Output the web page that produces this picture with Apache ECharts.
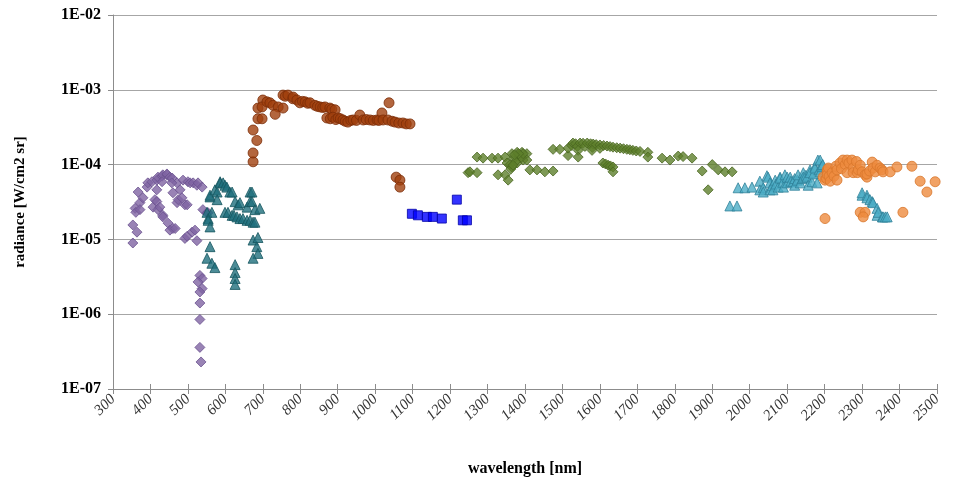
<!DOCTYPE html>
<html>
<head>
<meta charset="utf-8">
<script src="https://cdn.jsdelivr.net/npm/echarts@6/dist/echarts.min.js"></script>
<style>
html,body{margin:0;padding:0;background:#fff;}
#c{width:955px;height:483px;}
</style>
</head>
<body>
<div id="c"></div>
<script>
// x tick labels (nm)
const xTicks = [300,400,500,600,700,800,900,1000,1100,1200,1300,1400,1500,1600,1700,1800,1900,2000,2100,2200,2300,2400,2500];
// y tick labels (decades)
const yTicks = ['1E-07','1E-06','1E-05','1E-04','1E-03','1E-02'];

// series 1: purple diamonds [wavelength nm, radiance]
const purple = [[353,8.95e-6],[353,1.56e-5],[364,1.25e-5],[359,2.6e-5],[361,2.3e-5],[372,3.1e-5],[372,2.5e-5],[367,4.3e-5],[380,3.6e-5],[391,5.0e-5],[393,5.7e-5],[404,5.9e-5],[417,6.2e-5],[420,6.8e-5],[431,7.0e-5],[433,7.3e-5],[444,7.3e-5],[444,7.5e-5],[452,6.8e-5],[458,6.6e-5],[431,5.9e-5],[417,4.6e-5],[471,5.7e-5],[457,5.7e-5],[479,4.6e-5],[460,4.2e-5],[487,6.2e-5],[500,5.9e-5],[506,5.7e-5],[514,5.7e-5],[524,5.3e-5],[527,5.7e-5],[538,5.0e-5],[407,2.7e-5],[412,3.4e-5],[417,3.2e-5],[420,2.5e-5],[425,2.7e-5],[433,2.1e-5],[433,2.0e-5],[447,1.65e-5],[452,1.33e-5],[460,1.4e-5],[466,1.4e-5],[471,3.1e-5],[474,3.4e-5],[484,3.6e-5],[492,2.9e-5],[498,2.9e-5],[492,1.03e-5],[498,1.1e-5],[511,1.25e-5],[519,1.33e-5],[524,9.6e-6],[540,2.5e-5],[551,2.27e-5],[554,2.27e-5],[532,3.3e-6],[538,3.0e-6],[527,2.7e-6],[538,2.2e-6],[532,1.98e-6],[532,1.41e-6],[532,8.5e-7],[532,3.6e-7],[535,2.3e-7]];

// series 2: dark teal triangles
const tealDark = [[559,3.7e-5],[559,3.9e-5],[572,4.6e-5],[578,4.3e-5],[586,5.9e-5],[586,5.7e-5],[594,5.7e-5],[599,5.3e-5],[604,5.0e-5],[612,4.3e-5],[618,4.3e-5],[578,3.4e-5],[626,3.2e-5],[634,2.9e-5],[639,3.1e-5],[658,2.7e-5],[551,2.3e-5],[564,2.3e-5],[554,1.9e-5],[554,1.8e-5],[559,1.47e-5],[599,2.3e-5],[607,2.3e-5],[618,2.1e-5],[623,2.1e-5],[631,2.0e-5],[639,1.9e-5],[647,1.9e-5],[658,1.8e-5],[666,1.8e-5],[674,1.7e-5],[679,1.7e-5],[666,4.3e-5],[671,4.3e-5],[666,3.2e-5],[671,3.2e-5],[679,2.5e-5],[692,2.6e-5],[559,8.0e-6],[551,5.6e-6],[564,4.8e-6],[572,4.2e-6],[626,4.6e-6],[626,3.6e-6],[626,3.0e-6],[626,2.5e-6],[674,9.8e-6],[684,8.0e-6],[687,6.5e-6],[674,5.6e-6],[687,1.06e-5]];

// series 3: brown circles
const brown = [[674,1.09e-4],[674,1.43e-4],[684,2.1e-4],[674,2.9e-4],[687,4.1e-4],[698,4.1e-4],[687,5.7e-4],[700,7.3e-4],[698,5.9e-4],[711,6.9e-4],[719,6.7e-4],[727,6.2e-4],[741,5.9e-4],[754,5.7e-4],[733,4.7e-4],[754,8.5e-4],[760,8.2e-4],[767,8.5e-4],[780,7.6e-4],[781,8.0e-4],[791,7.3e-4],[799,6.7e-4],[806,7.0e-4],[813,6.9e-4],[820,6.6e-4],[826,6.7e-4],[839,6.2e-4],[846,6.0e-4],[853,5.9e-4],[860,5.8e-4],[866,5.9e-4],[879,5.7e-4],[884,5.5e-4],[893,5.4e-4],[871,4.2e-4],[880,4.1e-4],[887,4.3e-4],[895,4.0e-4],[901,4.2e-4],[907,4.1e-4],[914,3.95e-4],[920,3.8e-4],[927,3.7e-4],[935,3.9e-4],[941,3.95e-4],[950,3.9e-4],[959,4.6e-4],[968,3.95e-4],[976,4.0e-4],[986,3.95e-4],[995,3.9e-4],[1005,3.95e-4],[1010,3.9e-4],[1018,4.9e-4],[1021,3.95e-4],[1034,3.95e-4],[1037,6.7e-4],[1045,3.8e-4],[1053,3.7e-4],[1063,3.6e-4],[1074,3.6e-4],[1083,3.5e-4],[1093,3.5e-4],[1056,6.8e-5],[1066,6.2e-5],[1066,5.0e-5]];

// series 4: blue squares
const blue = [[1098,2.2e-5],[1114,2.1e-5],[1138,2.0e-5],[1154,2.0e-5],[1178,1.9e-5],[1218,3.4e-5],[1234,1.8e-5],[1245,1.8e-5]];

// series 5: green diamonds
const green = [[1248,7.8e-5],[1253,8.0e-5],[1272,7.8e-5],[1272,1.26e-4],[1288,1.22e-4],[1312,1.22e-4],[1328,1.22e-4],[1347,1.26e-4],[1365,1.4e-4],[1379,1.46e-4],[1392,1.46e-4],[1405,1.4e-4],[1352,1.05e-4],[1365,9.3e-5],[1379,1.05e-4],[1328,7.3e-5],[1347,7.3e-5],[1355,6.2e-5],[1395,1.15e-4],[1405,1.15e-4],[1370,1.2e-4],[1385,1.3e-4],[1375,1.1e-4],[1390,1.25e-4],[1360,1.0e-4],[1395,1.4e-4],[1383,1.4e-4],[1372,1.35e-4],[1362,8.7e-5],[1368,9.8e-5],[1413,8.5e-5],[1432,8.5e-5],[1453,8.0e-5],[1475,8.2e-5],[1475,1.6e-4],[1493,1.6e-4],[1515,1.32e-4],[1515,1.66e-4],[1525,1.8e-4],[1528,1.94e-4],[1535,1.9e-4],[1540,1.75e-4],[1547,1.94e-4],[1555,1.93e-4],[1560,1.75e-4],[1566,1.94e-4],[1575,1.9e-4],[1580,1.7e-4],[1582,1.88e-4],[1590,1.85e-4],[1600,1.83e-4],[1600,1.65e-4],[1610,1.8e-4],[1619,1.77e-4],[1627,1.74e-4],[1635,1.71e-4],[1645,1.68e-4],[1654,1.66e-4],[1663,1.63e-4],[1672,1.6e-4],[1680,1.58e-4],[1688,1.55e-4],[1697,1.52e-4],[1707,1.5e-4],[1542,1.55e-4],[1542,1.26e-4],[1579,1.55e-4],[1608,1.05e-4],[1615,1.02e-4],[1622,9.8e-5],[1628,9.6e-5],[1635,9.3e-5],[1635,8.0e-5],[1728,1.46e-4],[1728,1.26e-4],[1766,1.22e-4],[1787,1.15e-4],[1809,1.3e-4],[1822,1.28e-4],[1846,1.22e-4],[1873,8.2e-5],[1900,1.0e-4],[1916,8.5e-5],[1934,8.0e-5],[1953,8.0e-5],[1889,4.6e-5]];

// series 6: light teal triangles
const tealLight = [[1947,2.8e-5],[1966,2.8e-5],[1969,4.9e-5],[1987,4.9e-5],[2006,5.0e-5],[2027,6.0e-5],[2027,4.6e-5],[2036,4.9e-5],[2036,4.3e-5],[2046,7.1e-5],[2049,6.8e-5],[2054,5.7e-5],[2054,4.6e-5],[2060,5.2e-5],[2062,4.6e-5],[2068,6.2e-5],[2070,5.5e-5],[2076,5.0e-5],[2081,6.8e-5],[2081,6.6e-5],[2088,5.8e-5],[2090,5.0e-5],[2094,7.3e-5],[2100,5.7e-5],[2100,6.8e-5],[2108,6.8e-5],[2110,6.0e-5],[2116,5.9e-5],[2120,6.5e-5],[2120,5.3e-5],[2127,6.2e-5],[2129,7.3e-5],[2135,5.7e-5],[2140,6.5e-5],[2143,7.8e-5],[2143,6.8e-5],[2150,7.2e-5],[2153,6.8e-5],[2156,5.3e-5],[2161,8.5e-5],[2161,7.8e-5],[2166,5.9e-5],[2170,7.5e-5],[2174,9.3e-5],[2174,9.0e-5],[2180,5.7e-5],[2182,1.15e-4],[2185,8.5e-5],[2188,8.0e-5],[2188,1.15e-4],[2192,9.5e-5],[2195,1.0e-4],[2300,3.9e-5],[2300,4.2e-5],[2313,3.9e-5],[2313,3.6e-5],[2321,3.4e-5],[2327,3.2e-5],[2329,3.1e-5],[2340,2.6e-5],[2340,2.1e-5],[2343,2.3e-5],[2354,2.0e-5],[2356,2.0e-5],[2362,2.0e-5],[2367,2.0e-5]];

// series 7: orange circles
const orange = [[2201,1.9e-5],[2196,6.8e-5],[2201,6.2e-5],[2205,6.5e-5],[2207,8.5e-5],[2207,8.0e-5],[2207,7.3e-5],[2210,9.0e-5],[2212,7.0e-5],[2215,6.0e-5],[2220,7.8e-5],[2225,7.0e-5],[2230,9.5e-5],[2233,6.2e-5],[2233,8.5e-5],[2241,1.05e-4],[2245,8.8e-5],[2249,1.15e-4],[2255,1.0e-4],[2260,1.15e-4],[2260,7.8e-5],[2265,1.05e-4],[2273,1.15e-4],[2276,9.0e-5],[2276,7.8e-5],[2285,1.1e-4],[2287,7.8e-5],[2290,8.5e-5],[2295,9.8e-5],[2300,8.0e-5],[2308,7.3e-5],[2313,6.8e-5],[2313,7.5e-5],[2320,8.2e-5],[2327,1.08e-4],[2329,9.0e-5],[2335,8.0e-5],[2340,9.8e-5],[2348,9.0e-5],[2353,8.5e-5],[2356,8.0e-5],[2375,8.0e-5],[2393,9.3e-5],[2433,9.5e-5],[2455,6.0e-5],[2473,4.3e-5],[2495,5.9e-5],[2295,2.3e-5],[2308,2.3e-5],[2303,2.0e-5],[2409,2.3e-5]];

const chart = echarts.init(document.getElementById('c'));
const serif = 'Liberation Serif';
function sc(name, data, symbol, size, color, border){
  return {name:name, type:'scatter', data:data, symbol:symbol, symbolSize:size,
    itemStyle:{color:color, borderColor:border, borderWidth:1}, animation:false};
}
chart.setOption({
  animation:false,
  grid:{left:113, right:18, top:15, bottom:94},
  xAxis:[{
    type:'value', min:xTicks[0], max:xTicks[xTicks.length-1], interval:100,
    name:'wavelength [nm]', nameLocation:'middle', nameGap:72,
    nameTextStyle:{fontFamily:serif, fontWeight:'bold', fontSize:16, color:'#000'},
    axisLine:{show:true, lineStyle:{color:'#8c8c8c', width:1}},
    axisTick:{show:true, length:5, lineStyle:{color:'#8c8c8c'}},
    axisLabel:{rotate:45, margin:8, fontFamily:serif, fontStyle:'italic', fontSize:15, color:'#333',
      formatter:function(v){ return String(v); }},
    splitLine:{show:false}
  },{
    type:'value', min:xTicks[0], max:xTicks[xTicks.length-1], interval:100, position:'bottom', offset:0,
    axisLine:{show:false}, axisLabel:{show:false}, splitLine:{show:false},
    axisTick:{show:true, inside:true, length:5, lineStyle:{color:'#8c8c8c'}}
  }],
  yAxis:{
    type:'log', logBase:10, min:1e-7, max:1e-2,
    name:'radiance [W/cm2 sr]', nameLocation:'middle', nameGap:85,
    nameTextStyle:{fontFamily:serif, fontWeight:'bold', fontSize:15, color:'#000'},
    axisLine:{show:true, lineStyle:{color:'#8c8c8c', width:1}},
    axisTick:{show:true, length:5, lineStyle:{color:'#8c8c8c'}},
    axisLabel:{margin:12, fontFamily:serif, fontWeight:'bold', fontSize:16, color:'#000',
      formatter:function(v){ const e = Math.round(Math.log10(v)); return yTicks[e+7] || ''; }},
    splitLine:{show:true, lineStyle:{color:'#a6a6a6', width:1}},
    minorTick:{show:false}
  },
  series:[
    sc('purple', purple, 'diamond', 10, '#8064A2', '#6c5390'),
    sc('tealDark', tealDark, 'triangle', 10, '#1F6F7D', '#17565f'),
    sc('brown', brown, 'circle', 10, '#A0400E', '#7a2c06'),
    sc('blue', blue, 'rect', 9, '#0000FF', '#0000a8'),
    sc('green', green, 'diamond', 10, '#5E7F2C', '#4a6620'),
    sc('tealLight', tealLight, 'triangle', 10, '#4BACC6', '#2f8198'),
    sc('orange', orange, 'circle', 10, '#EE8B3E', '#d8772c')
  ]
});
</script>
</body>
</html>
